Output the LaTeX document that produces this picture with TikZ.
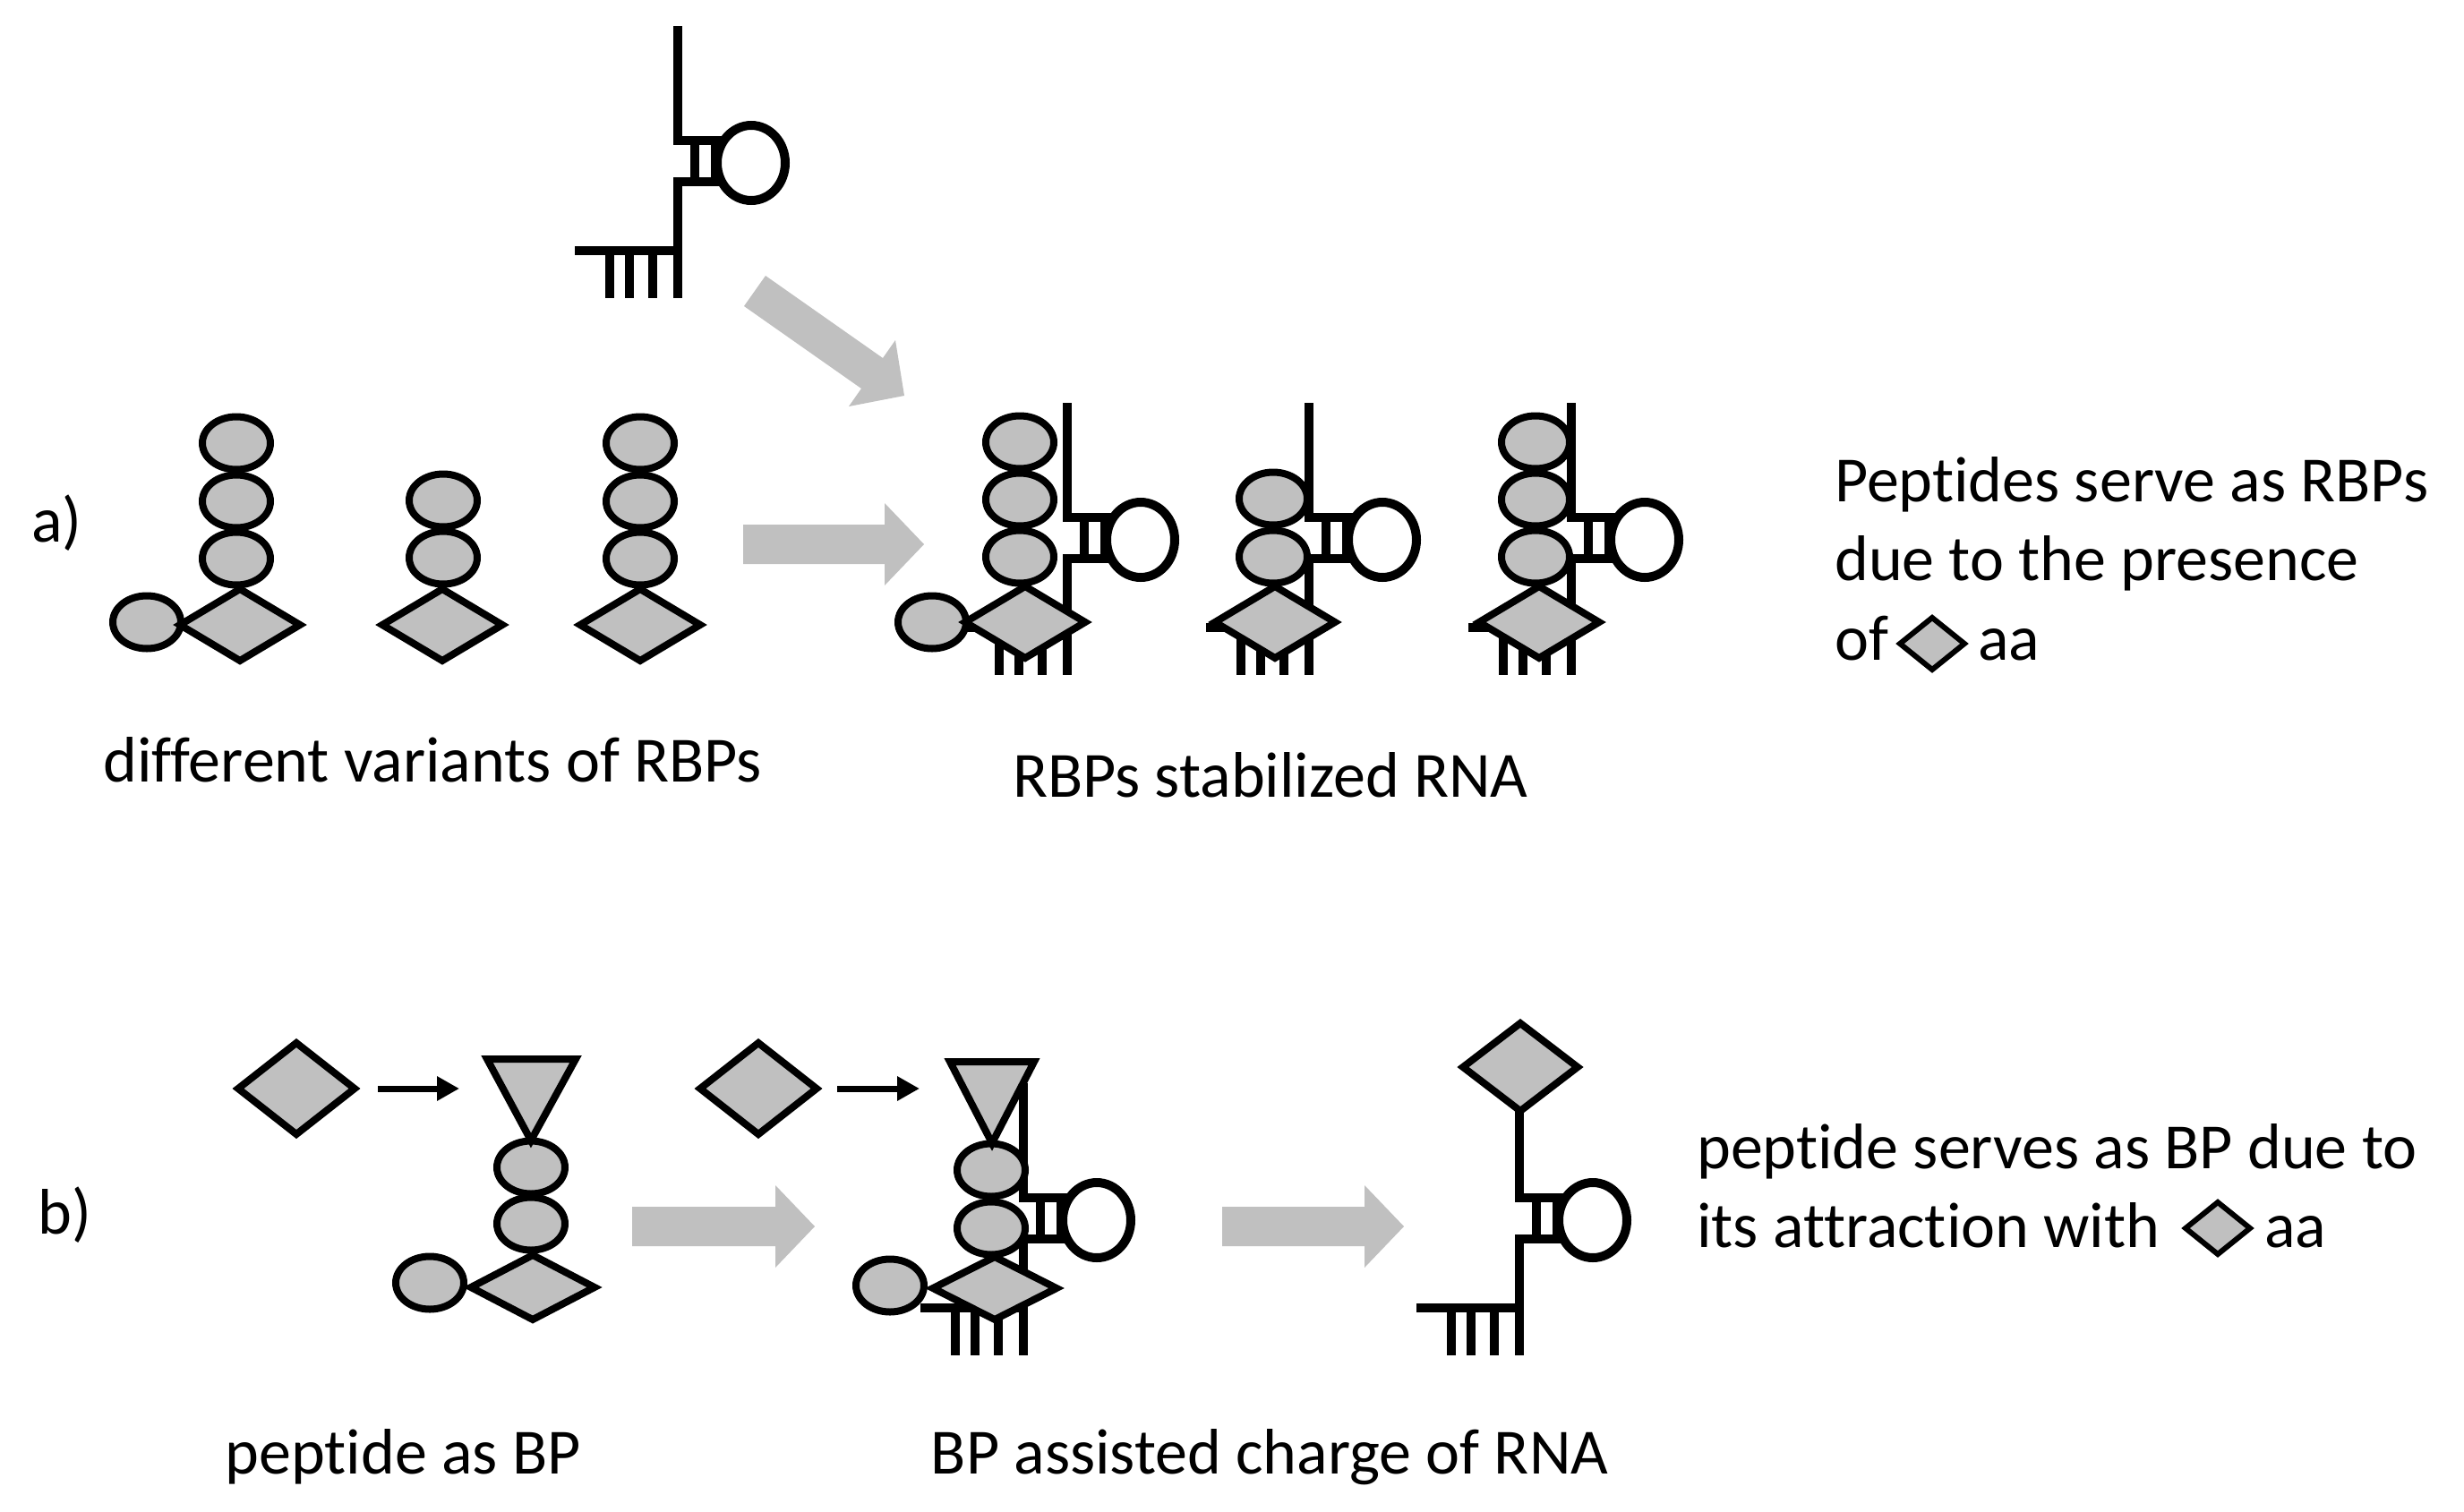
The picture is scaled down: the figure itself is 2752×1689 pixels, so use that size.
\documentclass[tikz,border=0pt]{standalone}
\usepackage{fontspec}
\setmainfont{Carlito}[Ligatures=NoCommon]
\usetikzlibrary{shapes.geometric,arrows.meta}
\definecolor{shapegray}{RGB}{192,192,192}
\definecolor{arrowgray}{RGB}{192,192,192}
\tikzset{
  rnaline/.style={line width=10pt, line join=miter, draw=black},
  bead/.style={ellipse, draw, line width=8pt, fill=shapegray, minimum width=76pt, minimum height=59pt, inner sep=0pt, outer sep=0pt},
  gem/.style 2 args={diamond, draw, line width=8pt, line join=miter, fill=shapegray, inner sep=0pt, outer sep=0pt, minimum width=#1pt, minimum height=#2pt},
  gemsmall/.style={diamond, draw, line width=6pt, line join=miter, fill=shapegray, inner sep=0pt, outer sep=0pt, minimum width=72pt, minimum height=58pt},
  tri/.style={draw, line width=8pt, line join=miter, fill=shapegray},
  smallarrow/.style={line width=7pt, -{Triangle[length=25pt,width=26pt]}},
  bigarrow/.style={fill=arrowgray},
  lbl/.style={font=\fontsize{72}{86}\selectfont, inner sep=0pt, anchor=base west}
}
\newcommand\rnamol[2]{%
  \begin{scope}[shift={(#1,#2)}]
  \draw[rnaline] (0,0) -- (0,128) -- (51,128);
  \draw[rnaline] (51,174) -- (0,174) -- (0,304);
  \draw[rnaline] (-115,251) -- (0,251);
  \draw[rnaline] (-76,251) -- (-76,304);
  \draw[rnaline] (-54,251) -- (-54,304);
  \draw[rnaline] (-28,251) -- (-28,304);
  \draw[rnaline] (19,128) -- (19,174);
  \draw[rnaline] (42,128) -- (42,174);
  \draw[rnaline] (82,153) ellipse [x radius=38, y radius=42];
  \end{scope}}
\newcommand\harr[3]{%
  \fill[bigarrow] (#1,#3-22) -- (#2-44,#3-22) -- (#2-44,#3-46) -- (#2,#3)
     -- (#2-44,#3+46) -- (#2-44,#3+22) -- (#1,#3+22) -- cycle;}
\begin{document}
\begin{tikzpicture}[x=1pt,y=-1pt]
\useasboundingbox[fill=white] (0,0) rectangle (2752,1689);

% ---------- a) ----------
\node[lbl] (la) at (35,605) {a)};

% top RNA
\rnamol{757}{29}
% diagonal arrow
\fill[bigarrow] (831,342) -- (962,434) -- (948,454) -- (1010,442) -- (1000,380) -- (986,400) -- (855,308) -- cycle;
% horizontal arrow a)
\harr{830}{1032}{608}

% left variants
\node[bead] (l1s) at (164,695) {};
\node[gem={134}{80}] (l1d) at (268,698) {};
\node[bead] (l1c) at (264,624) {};
\node[bead] (l1b) at (264,560) {};
\node[bead] (l1a) at (264,495) {};

\node[gem={134}{80}] (l2d) at (494,698) {};
\node[bead] (l2b) at (495,623) {};
\node[bead] (l2a) at (495,559) {};

\node[gem={134}{80}] (l3d) at (715,698) {};
\node[bead] (l3c) at (715,624) {};
\node[bead] (l3b) at (715,560) {};
\node[bead] (l3a) at (715,495) {};

% stabilized RNA
\rnamol{1192}{450}
\rnamol{1462}{450}
\rnamol{1755}{450}

\node[bead] (r1s) at (1041,695) {};
\node[gem={134}{80}] (r1d) at (1145,695) {};
\node[bead] (r1c) at (1139,622) {};
\node[bead] (r1b) at (1139,558) {};
\node[bead] (r1a) at (1139,494) {};

\node[gem={134}{80}] (r2d) at (1424,695) {};
\node[bead] (r2b) at (1422,622) {};
\node[bead] (r2a) at (1422,557) {};

\node[gem={134}{80}] (r3d) at (1719,695) {};
\node[bead] (r3c) at (1715,622) {};
\node[bead] (r3b) at (1715,558) {};
\node[bead] (r3a) at (1715,494) {};

\node[lbl] (t1) at (115,873) {different variants of RBPs};
\node[lbl] (t2) at (1131,890) {RBPs stabilized RNA};

\node[lbl] (t3a) at (2049,560) {Peptides serve as RBPs};
\node[lbl] (t3b) at (2049,648) {due to the presence};
\node[lbl] (t3c) at (2049,737) {of};
\node[gemsmall] (t3d) at (2158,719) {};
\node[lbl] (t3e) at (2209,737) {aa};

% ---------- b) ----------
\node[lbl] (lb) at (42,1378) {b)};

\node[gem={130}{102}] (f1) at (331,1216) {};
\coordinate (f1e) at (513,1216);
\draw[smallarrow, shorten <=26pt] (f1.east) -- (f1e);

\node[bead] (p1s) at (480,1433) {};
\node[gem={138}{72}] (p1d) at (595,1438) {};
\node[bead] (p1b) at (593,1367) {};
\node[bead] (p1a) at (593,1304) {};
\filldraw[tri] (544,1183) -- (643,1183) -- (593,1274) -- cycle;

\harr{706}{910}{1370}

\rnamol{1143}{1210}
\node[gem={130}{102}] (f2) at (847,1216) {};
\coordinate (f2e) at (1027,1216);
\draw[smallarrow, shorten <=23pt] (f2.east) -- (f2e);

\node[bead] (p2s) at (994,1436) {};
\node[gem={138}{70}] (p2d) at (1111,1439) {};
\node[bead] (p2b) at (1107,1372) {};
\node[bead] (p2a) at (1107,1307) {};
\filldraw[tri] (1061,1186) -- (1155,1186) -- (1108,1277) -- cycle;

\harr{1365}{1568}{1370}

\rnamol{1697}{1210}
\node[gem={128}{98}] (p3d) at (1698,1192) {};

\node[lbl] (t4a) at (1895,1305) {peptide serves as BP due to};
\node[lbl] (t4b) at (1895,1393) {its attraction with};
\node[gemsmall] (t4c) at (2477,1372) {};
\node[lbl] (t4d) at (2529,1393) {aa};

\node[lbl, anchor=base] (t5) at (450,1646) {peptide as BP};
\node[lbl, anchor=base] (t6) at (1418,1646) {BP assisted charge of RNA};
\end{tikzpicture}
\end{document}
